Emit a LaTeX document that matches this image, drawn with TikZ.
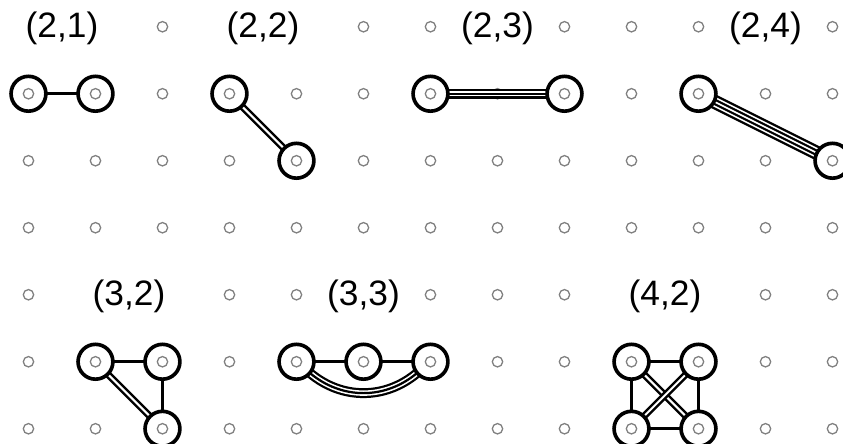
\documentclass[tikz,border=0pt]{standalone}
\usepackage{fontspec}
\setmainfont{Liberation Sans}
\pgfdeclarelayer{dots}
\pgfdeclarelayer{edges}
\pgfsetlayers{dots,edges,main}
\begin{document}
\begin{tikzpicture}[
  x=1cm, y=1cm,
  gdot/.style={circle, draw=black!50, line width=0.55pt, minimum size=4.4pt, inner sep=0pt},
  vtx/.style={circle, draw=black, line width=1.55pt, minimum size=14.8pt, inner sep=0pt, outer sep=0pt},
  lbl/.style={fill=white, inner sep=3pt, font=\fontsize{15}{18}\selectfont},
  e1/.style={draw=black, line width=1.3pt},
  e2/.style={draw=black, line width=1.05pt, double=white, double distance=0.9pt},
  ta/.style={draw=black, line width=4.2pt},
  tb/.style={draw=white, line width=2.3pt},
  tc/.style={draw=black, line width=0.95pt},
  qa/.style={draw=black, line width=6.0pt},
  qb/.style={draw=white, line width=4.0pt},
  qc/.style={draw=black, line width=2.6pt},
  qd/.style={draw=white, line width=0.7pt}
]
\useasboundingbox (-0.425,0.399) rectangle (12.157,-6.213);
\clip (-0.425,0.399) rectangle (12.157,-6.213);

% grid of small dots
\begin{pgfonlayer}{dots}
\foreach \c in {0,...,12}
  \foreach \r in {0,...,6}
    \node[gdot] (d-\c-\r) at (\c,-\r) {};
\end{pgfonlayer}

% labels
\node[lbl] (l21) at (0.5,-0.03) {(2,1)};
\node[lbl] (l22) at (3.5,-0.03) {(2,2)};
\node[lbl] (l23) at (7,-0.03) {(2,3)};
\node[lbl] (l24) at (11,-0.03) {(2,4)};
\node[lbl] (l32) at (1.5,-4.03) {(3,2)};
\node[lbl] (l33) at (5,-4.03) {(3,3)};
\node[lbl] (l42) at (9.5,-4.03) {(4,2)};

% vertices
\node[vtx] (a1) at (0,-1) {};
\node[vtx] (a2) at (1,-1) {};
\node[vtx] (b1) at (3,-1) {};
\node[vtx] (b2) at (4,-2) {};
\node[vtx] (c1) at (6,-1) {};
\node[vtx] (c2) at (8,-1) {};
\node[vtx] (f1) at (10,-1) {};
\node[vtx] (f2) at (12,-2) {};
\node[vtx] (g1) at (1,-5) {};
\node[vtx] (g2) at (2,-5) {};
\node[vtx] (g3) at (2,-6) {};
\node[vtx] (h1) at (4,-5) {};
\node[vtx] (h2) at (5,-5) {};
\node[vtx] (h3) at (6,-5) {};
\node[vtx] (k1) at (9,-5) {};
\node[vtx] (k2) at (10,-5) {};
\node[vtx] (k3) at (9,-6) {};
\node[vtx] (k4) at (10,-6) {};

\begin{pgfonlayer}{edges}
% (2,1)
\draw[e1] (a1) -- (a2);
% (2,2)
\draw[e2] (b1) -- (b2);
% (2,3)
\draw[ta] (c1) -- (c2);
\draw[tb] (c1) -- (c2);
\draw[tc] (c1) -- (c2);
% (2,4)
\draw[qa] (f1) -- (f2);
\draw[qb] (f1) -- (f2);
\draw[qc] (f1) -- (f2);
\draw[qd] (f1) -- (f2);
% (3,2)
\draw[e1] (g1) -- (g2);
\draw[e1] (g2) -- (g3);
\draw[e2] (g1) -- (g3);
% (3,3)
\draw[e1] (h1) -- (h2);
\draw[e1] (h2) -- (h3);
\draw[ta] (h1) to[bend right=40] (h3);
\draw[tb] (h1) to[bend right=40] (h3);
\draw[tc] (h1) to[bend right=40] (h3);
% (4,2)
\draw[e1] (k1) -- (k2);
\draw[e1] (k3) -- (k4);
\draw[e1] (k1) -- (k3);
\draw[e1] (k2) -- (k4);
\draw[e2] (k1) -- (k4);
\draw[e2] (k2) -- (k3);
\end{pgfonlayer}
\end{tikzpicture}
\end{document}
